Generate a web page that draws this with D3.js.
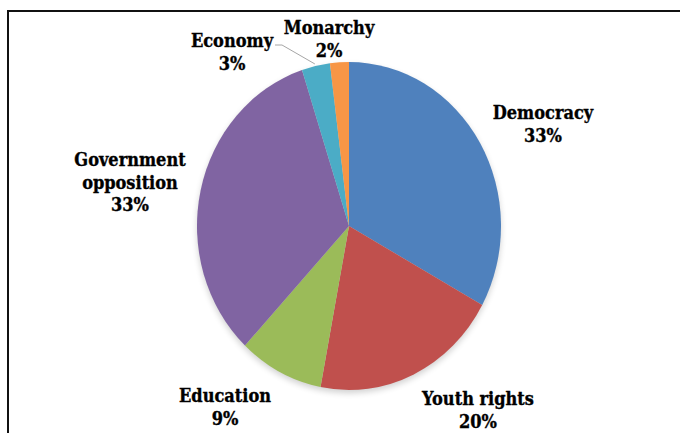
<!DOCTYPE html>
<html>
<head>
<meta charset="utf-8">
<script src="https://cdn.jsdelivr.net/npm/d3@7"></script>
<style>
  html, body { margin: 0; padding: 0; background: #fff; }
  svg { display: block; }
  .lbl { font-family: "DejaVu Serif Condensed", "DejaVu Serif", serif; font-stretch: condensed; font-weight: bold; font-size: 18px; fill: #000; stroke: #000; stroke-width: 0.35px; }
</style>
</head>
<body>
<svg id="chart" width="680" height="433"></svg>
<script>
// ---- data ----
const categories = ["Democracy", "Youth rights", "Education", "Government opposition", "Economy", "Monarchy"];
const values = [33, 20, 9, 33, 3, 2];
const percentLabels = ["33%", "20%", "9%", "33%", "3%", "2%"];
const colors = ["#4F81BD", "#C0504D", "#9BBB59", "#8064A2", "#4BACC6", "#F79646"];

// ---- layout ----
const W = 680, H = 433;
const cx = 349, cy = 226, rx = 152, ry = 164;
const labelLines = [
  ["Democracy", "33%"],
  ["Youth rights", "20%"],
  ["Education", "9%"],
  ["Government", "opposition", "33%"],
  ["Economy", "3%"],
  ["Monarchy", "2%"]
];
const labelPos = [
  [543, 119], [478, 405], [225, 402], [130, 166], [232, 47], [329, 34]
];
const lineH = 22.5;

const svg = d3.select("#chart");

// frame
svg.append("rect")
  .attr("x", 8).attr("y", 11).attr("width", W + 10).attr("height", H + 10)
  .attr("fill", "none").attr("stroke", "#111").attr("stroke-width", 2);

const defs = svg.append("defs");
const f = defs.append("filter").attr("id", "shadow").attr("x", "-20%").attr("y", "-20%").attr("width", "140%").attr("height", "140%");
f.append("feGaussianBlur").attr("stdDeviation", 3);

const pie = d3.pie().sort(null).value(d => d)(values);
const arc = d3.arc().innerRadius(0).outerRadius(rx);

const g = svg.append("g").attr("transform", `translate(${cx},${cy}) scale(1,${ry / rx})`);

// shadow
g.append("circle").attr("cx", 0).attr("cy", 3).attr("r", rx)
  .attr("fill", "#000").attr("opacity", 0.18).attr("filter", "url(#shadow)");

g.selectAll("path.slice").data(pie).join("path")
  .attr("class", "slice")
  .attr("d", arc)
  .attr("fill", (d, i) => colors[i]);

// leader line for Economy
const ecoAngle = (pie[4].startAngle + pie[4].endAngle) / 2;
const ex = cx + rx * Math.sin(ecoAngle), ey = cy - ry * Math.cos(ecoAngle);
svg.append("polyline")
  .attr("points", `275,45 282,45 ${ex - 1},${ey - 2}`)
  .attr("fill", "none").attr("stroke", "#A6A6A6").attr("stroke-width", 1);

// labels
labelLines.forEach((lines, i) => {
  const t = svg.append("text").attr("class", "lbl")
    .attr("text-anchor", "middle")
    .attr("x", labelPos[i][0]).attr("y", labelPos[i][1]);
  lines.forEach((s, j) => {
    t.append("tspan").attr("x", labelPos[i][0]).attr("dy", j === 0 ? 0 : lineH).text(s);
  });
});
</script>
</body>
</html>
